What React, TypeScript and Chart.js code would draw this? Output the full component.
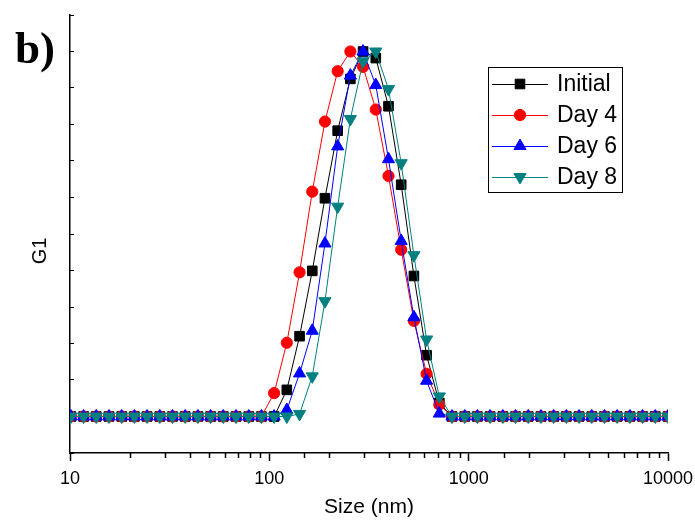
import React, { useEffect, useRef } from 'react';
import { Chart, registerables } from 'chart.js';

Chart.register(...registerables);

// Size bins (nm)
const sizes = [
  10.1, 11.7, 13.54, 15.69, 18.17, 21.04, 24.36, 28.21, 32.67, 37.84, 43.82, 50.75,
  58.77, 68.06, 78.82, 91.28, 105.7, 122.4, 141.8, 164.2, 190.1, 220.2, 255.0, 295.3,
  342.0, 396.1, 458.7, 531.2, 615.1, 712.4, 825.0, 955.4, 1106, 1281, 1484, 1718,
  1990, 2305, 2669, 3091, 3580, 4145, 4801, 5560, 6439, 7456, 8635, 10000,
];

const seriesLabels = ['Initial', 'Day 4', 'Day 6', 'Day 8'];

const initial = [
  0, 0, 0, 0, 0, 0, 0, 0, 0, 0, 0, 0,
  0, 0, 0, 0, 0, 0.073, 0.22, 0.399, 0.598, 0.783, 0.925, 1.0,
  0.982, 0.85, 0.635, 0.385, 0.168, 0.037, 0, 0, 0, 0, 0, 0,
  0, 0, 0, 0, 0, 0, 0, 0, 0, 0, 0, 0,
];
const day4 = [
  0, 0, 0, 0, 0, 0, 0, 0, 0, 0, 0, 0,
  0, 0, 0, 0, 0.064, 0.202, 0.395, 0.616, 0.808, 0.946, 1.0, 0.958,
  0.841, 0.659, 0.457, 0.262, 0.117, 0.033, 0, 0, 0, 0, 0, 0,
  0, 0, 0, 0, 0, 0, 0, 0, 0, 0, 0, 0,
];
const day6 = [
  0, 0, 0, 0, 0, 0, 0, 0, 0, 0, 0, 0,
  0, 0, 0, 0, 0, 0.018, 0.118, 0.235, 0.474, 0.74, 0.934, 1.0,
  0.908, 0.705, 0.481, 0.272, 0.098, 0.008, 0, 0, 0, 0, 0, 0,
  0, 0, 0, 0, 0, 0, 0, 0, 0, 0, 0, 0,
];
const day8 = [
  0, 0, 0, 0, 0, 0, 0, 0, 0, 0, 0, 0,
  0, 0, 0, 0, 0, 0, 0.007, 0.11, 0.316, 0.575, 0.815, 0.973,
  1.0, 0.897, 0.694, 0.442, 0.211, 0.055, 0, 0, 0, 0, 0, 0,
  0, 0, 0, 0, 0, 0, 0, 0, 0, 0, 0, 0,
];

const xMin = 10;
const xMax = 10000;
const yMin = -0.1;
const yMax = 1.1;
const yStep = 0.1;

const seriesValues = [initial, day4, day6, day8];
const colors = ['#000000', '#ff0000', '#0000ff', '#008080'];
const pointStyles = ['rect', 'circle', 'triangle', 'triangle'];
const rotations = [0, 0, 0, 180];
const radii = [6.8, 5.6, 7, 7];

const FONT = '"Liberation Sans", Arial, Helvetica, sans-serif';

function isMajor(v: number) {
  const l = Math.log10(v);
  return Math.abs(l - Math.round(l)) < 1e-6;
}

function drawMarker(ctx: CanvasRenderingContext2D, style: string, x: number, y: number, r: number, rotDeg: number, color: string) {
  ctx.save();
  ctx.fillStyle = color;
  ctx.strokeStyle = color;
  ctx.lineWidth = 1;
  ctx.beginPath();
  if (style === 'rect') {
    const h = r * Math.SQRT1_2;
    ctx.rect(x - h, y - h, 2 * h, 2 * h);
  } else if (style === 'circle') {
    ctx.arc(x, y, r, 0, Math.PI * 2);
  } else {
    let rad = (rotDeg * Math.PI) / 180;
    ctx.moveTo(x + Math.sin(rad) * r, y - Math.cos(rad) * r);
    rad += (2 * Math.PI) / 3;
    ctx.lineTo(x + Math.sin(rad) * r, y - Math.cos(rad) * r);
    rad += (2 * Math.PI) / 3;
    ctx.lineTo(x + Math.sin(rad) * r, y - Math.cos(rad) * r);
    ctx.closePath();
  }
  ctx.fill();
  ctx.stroke();
  ctx.restore();
}

const overlayPlugin = {
  id: 'overlay',
  afterDraw(chart: any) {
    const ctx: CanvasRenderingContext2D = chart.ctx;
    const xs = chart.scales.x;
    const area = chart.chartArea;
    ctx.save();
    // minor ticks on the x axis
    ctx.strokeStyle = '#000';
    ctx.lineWidth = 1.5;
    xs.ticks.forEach((t: any) => {
      if (!isMajor(t.value)) {
        const px = Math.round(xs.getPixelForValue(t.value)) + 0.5;
        ctx.beginPath();
        ctx.moveTo(px, area.bottom);
        ctx.lineTo(px, area.bottom + 5);
        ctx.stroke();
      }
    });

    // y axis title
    ctx.fillStyle = '#000';
    ctx.font = `20px ${FONT}`;
    ctx.textAlign = 'center';
    ctx.textBaseline = 'middle';
    ctx.save();
    ctx.translate(40, 251);
    ctx.rotate(-Math.PI / 2);
    ctx.fillText('G1', 0, 0);
    ctx.restore();

    // panel label
    ctx.font = 'bold 45px "Liberation Serif", "Times New Roman", serif';
    ctx.textAlign = 'left';
    ctx.textBaseline = 'alphabetic';
    ctx.fillText('b)', 15, 63);

    // legend
    const bx = 488.5, by = 67.5, bw = 134, bh = 125;
    ctx.fillStyle = '#fff';
    ctx.fillRect(bx, by, bw, bh);
    ctx.strokeStyle = '#000';
    ctx.lineWidth = 1;
    ctx.strokeRect(bx, by, bw, bh);
    const rowY = [84, 115, 146, 177];
    seriesLabels.forEach((lab, i) => {
      const y = rowY[i];
      ctx.strokeStyle = colors[i];
      ctx.lineWidth = 1;
      ctx.beginPath();
      ctx.moveTo(492, y + 0.5);
      ctx.lineTo(548, y + 0.5);
      ctx.stroke();
      drawMarker(ctx, pointStyles[i], 520, y, radii[i], rotations[i], colors[i]);
      ctx.fillStyle = '#000';
      ctx.font = `23px ${FONT}`;
      ctx.textAlign = 'left';
      ctx.textBaseline = 'middle';
      ctx.fillText(lab, 557, y + 1);
    });
    ctx.restore();
  },
};

export default function App() {
  const ref = useRef<HTMLCanvasElement>(null);

  useEffect(() => {
    if (!ref.current) return;
    Chart.defaults.font.family = FONT;
    Chart.defaults.color = '#000';
    const datasets = seriesLabels.map((label, i) => ({
      label,
      data: sizes.map((s, j) => ({ x: s, y: seriesValues[i][j] })),
      borderColor: colors[i],
      backgroundColor: colors[i],
      borderWidth: 1,
      pointStyle: pointStyles[i],
      pointRotation: rotations[i],
      pointRadius: radii[i],
      pointBackgroundColor: colors[i],
      pointBorderColor: colors[i],
      pointBorderWidth: 1,
      tension: 0,
      clip: 0,
      order: seriesLabels.length - i,
    }));

    const chart = new Chart(ref.current, {
      type: 'line',
      data: { datasets },
      plugins: [overlayPlugin],
      options: {
        animation: false,
        responsive: false,
        devicePixelRatio: 1,
        events: [],
        layout: { padding: { left: 0, right: 27, top: 15, bottom: 0 } },
        plugins: {
          legend: { display: false },
          tooltip: { enabled: false },
          title: { display: false },
        },
        scales: {
          x: {
            type: 'logarithmic',
            min: xMin,
            max: xMax,
            afterFit: (s: any) => {
              s.height = 70;
              s.paddingLeft = 0;
              s.paddingRight = 0;
            },
            border: { display: true, color: '#000', width: 1.5 },
            grid: {
              display: true,
              drawOnChartArea: false,
              drawTicks: true,
              tickLength: 8,
              tickWidth: 1.5,
              tickColor: (c: any) => (c.tick && isMajor(c.tick.value) ? '#000' : 'rgba(0,0,0,0)'),
            },
            ticks: {
              autoSkip: false,
              maxRotation: 0,
              minRotation: 0,
              padding: 7,
              color: '#000',
              font: { size: 18, family: FONT },
              callback: (v: any) => (isMajor(Number(v)) ? String(Math.round(Number(v))) : ''),
            },
            title: {
              display: true,
              text: 'Size (nm)',
              color: '#000',
              font: { size: 21, family: FONT },
              padding: { top: 0, bottom: 3 },
            },
          },
          y: {
            type: 'linear',
            min: yMin,
            max: yMax,
            afterFit: (s: any) => {
              s.width = 70;
              s.paddingTop = 0;
              s.paddingBottom = 0;
            },
            border: { display: true, color: '#000', width: 1.5 },
            grid: {
              display: true,
              drawOnChartArea: false,
              drawTicks: true,
              tickLength: -4,
              tickWidth: 1,
              tickColor: '#000',
            },
            ticks: {
              display: false,
              stepSize: yStep,
            },
          },
        },
      },
    });
    return () => chart.destroy();
  }, []);

  return (
    <div style={{ position: 'absolute', left: 0, top: 0, width: 695, height: 523, background: '#fff' }}>
      <canvas ref={ref} width={695} height={523} style={{ display: 'block', width: 695, height: 523 }} />
    </div>
  );
}
